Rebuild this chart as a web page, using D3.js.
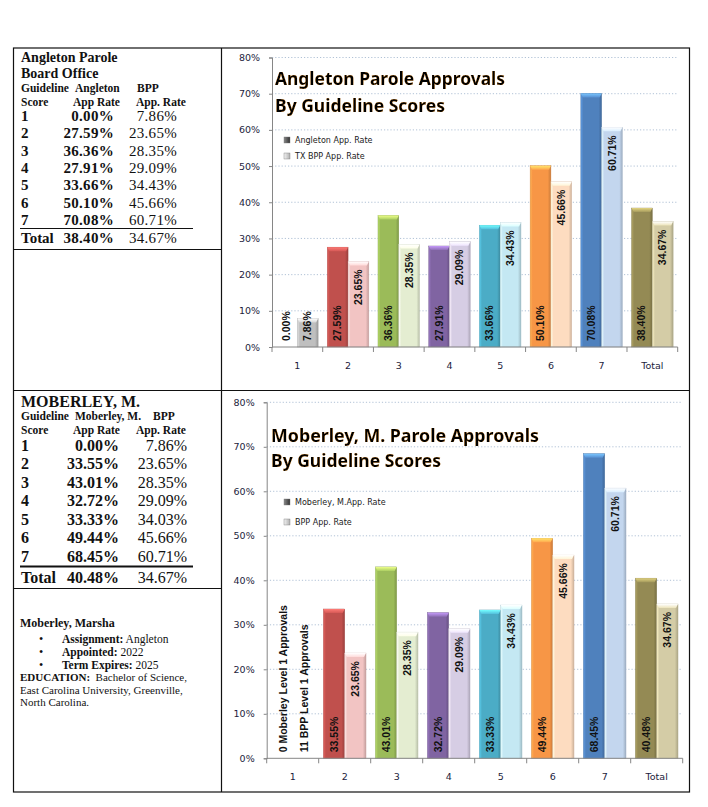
<!DOCTYPE html>
<html lang="en">
<head>
<meta charset="UTF-8">
<title>Parole Approvals</title>
<style>
    body{ margin:0; background:#fff; }
    .serif{ font-family:"Liberation Serif","Times New Roman",serif; fill:#111; }
    .tick text{ font-family:"DejaVu Sans",sans-serif; font-size:9.5px; fill:#1c1c3c; }
    .lbl{ font-family:"Liberation Sans",Arial,sans-serif; font-weight:bold; font-size:10.5px; fill:#111; }
</style>
<script src="https://cdn.jsdelivr.net/npm/d3@7"></script>
</head>
<body>
<script>
    const width = 708
    const height = 807

    // chart data
    const categories = ["1","2","3","4","5","6","7","Total"]
    const angletonRates = [0.00, 27.59, 36.36, 27.91, 33.66, 50.10, 70.08, 38.40]
    const bppRates = [7.86, 23.65, 28.35, 29.09, 34.43, 45.66, 60.71, 34.67]
    const moberleyRates = [null, 33.55, 43.01, 32.72, 33.33, 49.44, 68.45, 40.48]
    const moberleyBppRates = [null, 23.65, 28.35, 29.09, 34.43, 45.66, 60.71, 34.67]
    const yTicks = [0,10,20,30,40,50,60,70,80]

    // table data (left column)
    const scoreRows = ["1","2","3","4","5","6","7","Total"]
    const angletonTable = ["0.00%","27.59%","36.36%","27.91%","33.66%","50.10%","70.08%","38.40%"]
    const angletonBppTable = ["7.86%","23.65%","28.35%","29.09%","34.43%","45.66%","60.71%","34.67%"]
    const moberleyTable = ["0.00%","33.55%","43.01%","32.72%","33.33%","49.44%","68.45%","40.48%"]
    const moberleyBppTable = ["7.86%","23.65%","28.35%","29.09%","34.03%","45.66%","60.71%","34.67%"]

    const darkColors = ["#a6a6a6","#c0504d","#9bbb59","#8064a2","#4bacc6","#f79646","#4f81bd","#948a54"]
    const lightColors = ["#bfbfbf","#f2c4c3","#e4edd1","#d6cde4","#c4e8f3","#fddcc0","#c3d6ee","#d4cca6"]

    let svg = d3.select("body").append("svg")
        .attr("width", width).attr("height", height)
        .attr("viewBox", `0 0 ${width} ${height}`)
    let defs = svg.append("defs")

    //glow for titles
    let glow = defs.append("filter").attr("id","glow").attr("x","-5%").attr("y","-20%").attr("width","110%").attr("height","140%")
    glow.append("feMorphology").attr("in","SourceAlpha").attr("operator","dilate").attr("radius",0.35).attr("result","d")
    glow.append("feGaussianBlur").attr("in","d").attr("stdDeviation",0.6).attr("result","b")
    glow.append("feFlood").attr("flood-color","#f0a040").attr("flood-opacity",0.75)
    glow.append("feComposite").attr("in2","b").attr("operator","in").attr("result","g")
    let gm = glow.append("feMerge")
    gm.append("feMergeNode").attr("in","g")
    gm.append("feMergeNode").attr("in","SourceGraphic")

    //gradients for bevelled bars
    function makeGrad(id, c){
        let g = defs.append("linearGradient").attr("id",id).attr("x1","0").attr("x2","1").attr("y1","0").attr("y2","0")
        const base = d3.color(c)
        g.append("stop").attr("offset","0").attr("stop-color", base.brighter(0.5))
        g.append("stop").attr("offset","0.12").attr("stop-color", base)
        g.append("stop").attr("offset","0.85").attr("stop-color", base)
        g.append("stop").attr("offset","1").attr("stop-color", base.darker(0.6))
        let t = defs.append("linearGradient").attr("id",id+"_top").attr("x1","0").attr("x2","0").attr("y1","0").attr("y2","1")
        t.append("stop").attr("offset","0").attr("stop-color", base.brighter(1.2))
        t.append("stop").attr("offset","1").attr("stop-color", base.brighter(0.3))
    }
    darkColors.forEach((c,i)=>makeGrad("d"+i,c))
    lightColors.forEach((c,i)=>makeGrad("l"+i,c))
    let lg = defs.append("linearGradient").attr("id","legDark").attr("x1","0").attr("x2","1")
    lg.append("stop").attr("offset","0").attr("stop-color","#888")
    lg.append("stop").attr("offset","1").attr("stop-color","#333")
    let lg2 = defs.append("linearGradient").attr("id","legLight").attr("x1","0").attr("x2","1")
    lg2.append("stop").attr("offset","0").attr("stop-color","#f2f2f2")
    lg2.append("stop").attr("offset","1").attr("stop-color","#b0b0b0")

    //outer frame
    let frame = svg.append("g").attr("stroke","#111").attr("stroke-width",1.2).attr("fill","none")
    frame.append("rect").attr("x",13.5).attr("y",48).attr("width",676).attr("height",744)
    frame.append("line").attr("x1",221.5).attr("x2",221.5).attr("y1",48).attr("y2",792)
    frame.append("line").attr("x1",13.5).attr("x2",689.5).attr("y1",390.5).attr("y2",390.5)
    frame.append("line").attr("x1",13.5).attr("x2",221.5).attr("y1",249.5).attr("y2",249.5)
    frame.append("line").attr("x1",13.5).attr("x2",221.5).attr("y1",588.5).attr("y2",588.5)

    //left tables
    function drawTable(cfg){
        let g = svg.append("g").attr("class","serif")
        cfg.heads.forEach(h=>{
            g.append("text").attr("x",h[0]).attr("y",h[1]).text(h[2])
                .attr("font-weight","bold").attr("font-size",h[3])
        })
        scoreRows.forEach((s,i)=>{
            const y = i<7 ? cfg.row0 + i*cfg.step : cfg.totalY
            g.append("text").attr("x",21).attr("y",y).text(s)
                .attr("font-weight","bold").attr("font-size",cfg.fs)
            g.append("text").attr("x",cfg.colA).attr("y",y).text(cfg.a[i])
                .attr("text-anchor","end").attr("font-weight","bold")
                .attr("font-size",cfg.fs).attr("letter-spacing",cfg.ls)
            g.append("text").attr("x",cfg.colB).attr("y",y).text(cfg.b[i])
                .attr("text-anchor","end").attr("font-size",cfg.fs).attr("letter-spacing",cfg.ls)
        })
        g.append("line").attr("x1",20).attr("x2",193).attr("y1",cfg.lineY).attr("y2",cfg.lineY)
            .attr("stroke","#111").attr("stroke-width",cfg.lineW)
    }
    drawTable({
        heads:[[21,62,"Angleton Parole","14px"],[21,78,"Board Office","14px"],
            [21,92,"Guideline","11.5px"],[75,92,"Angleton","11.5px"],[137,92,"BPP","11.5px"],
            [21,106,"Score","11.5px"],[73,106,"App Rate","11.5px"],[136,106,"App. Rate","11.5px"]],
        row0:121, step:17.3, totalY:242.7, fs:"15px", ls:0.3,
        colA:114, colB:177, a:angletonTable, b:angletonBppTable, lineY:228.5, lineW:1
    })
    drawTable({
        heads:[[21,407,"MOBERLEY, M.","16px"],
            [21,419.5,"Guideline","11.5px"],[75,419.5,"Moberley, M.","11.5px"],[153,419.5,"BPP","11.5px"],
            [21,433.5,"Score","11.5px"],[73,433.5,"App Rate","11.5px"],[136,433.5,"App. Rate","11.5px"]],
        row0:451, step:18.45, totalY:582.7, fs:"16px", ls:0,
        colA:119, colB:187, a:moberleyTable, b:moberleyBppTable, lineY:566.5, lineW:2
    })

    //bio
    let bio = svg.append("g").attr("class","serif").attr("font-size","11px")
    bio.append("text").attr("x",20).attr("y",627).attr("font-size","12px").attr("font-weight","bold").text("Moberley, Marsha")
    const bullets = [["Assignment:"," Angleton"],["Appointed:"," 2022"],["Term Expires:"," 2025"]]
    bullets.forEach((b,i)=>{
        const y = 643 + i*13
        bio.append("text").attr("x",39).attr("y",y).attr("font-size","12px").text("•")
        let t = bio.append("text").attr("x",62).attr("y",y).attr("font-size","11.5px")
        t.append("tspan").attr("font-weight","bold").text(b[0])
        t.append("tspan").text(b[1])
    })
    let ed = bio.append("text").attr("x",20).attr("y",681)
    ed.append("tspan").attr("font-weight","bold").text("EDUCATION:")
    ed.append("tspan").text("\u00a0 Bachelor of Science,")
    bio.append("text").attr("x",20).attr("y",693.5).text("East Carolina University, Greenville,")
    bio.append("text").attr("x",20).attr("y",706).text("North Carolina.")

    //charts
    function drawChart(cfg){
        let g = svg.append("g")
        const x = d3.scaleBand().domain(categories).range([cfg.x0,cfg.x1])
            .paddingInner(0.18).paddingOuter(0.09)
        const sub = d3.scaleBand().domain(["a","b"]).range([0,x.bandwidth()])
        const y = d3.scaleLinear().domain([0,80]).range([cfg.y0,cfg.yTop])
        const step = (cfg.x1-cfg.x0)/categories.length

        //grid
        g.append("g").selectAll("line").data(yTicks.slice(1)).enter().append("line")
            .attr("x1",cfg.x0).attr("x2",cfg.x1)
            .attr("y1",d=>y(d)).attr("y2",d=>y(d))
            .attr("stroke","#9db3cc").attr("stroke-width",0.8).attr("stroke-dasharray","1.2,2")

        //y axis
        let ya = g.append("g").attr("transform",`translate(${cfg.x0},0)`)
            .call(d3.axisLeft(y).tickValues(yTicks).tickFormat(d=>d+"%").tickSize(3).tickPadding(9))
        ya.select(".domain").attr("stroke","#868686")
        ya.selectAll(".tick line").attr("stroke","#868686")

        //bars
        const series = [{k:"a",vals:cfg.a,pre:"d",pos:"base"},{k:"b",vals:cfg.b,pre:"l",pos:"end"}]
        series.forEach(s=>{
            categories.forEach((c,i)=>{
                const v = s.vals[i]
                if(v===null) return
                const bx = x(c)+sub(s.k), bw = sub.bandwidth()
                const top = y(v), h = cfg.y0 - top
                if(h>0){
                    g.append("rect").attr("x",bx).attr("y",top).attr("width",bw).attr("height",h)
                        .attr("fill",`url(#${s.pre}${i})`)
                        .attr("stroke",d3.color(s.pre==="d"?darkColors[i]:lightColors[i]).darker(0.5))
                        .attr("stroke-width",0.4)
                    g.append("path")
                        .attr("d",`M${bx},${top} L${bx+bw},${top} L${bx+bw-2},${top+Math.min(4,h)} L${bx+2},${top+Math.min(4,h)} Z`)
                        .attr("fill",`url(#${s.pre}${i}_top)`)
                }
                let cx = bx + bw/2
                let lab = v.toFixed(2)+"%"
                let atBase = s.pos==="base" || h < 50
                let ly = atBase ? cfg.y0 - 6 : top + 8
                g.append("text").attr("class","lbl")
                    .attr("transform",`translate(${cx+3.5},${ly}) rotate(-90)`)
                    .attr("text-anchor",atBase?"start":"end")
                    .text(lab)
            })
        })

        //x axis
        g.append("line").attr("x1",cfg.x0).attr("x2",cfg.x1).attr("y1",cfg.y0).attr("y2",cfg.y0)
            .attr("stroke","#868686")
        g.append("g").selectAll("line").data(d3.range(categories.length+1)).enter().append("line")
            .attr("x1",d=>cfg.x0+d*step).attr("x2",d=>cfg.x0+d*step)
            .attr("y1",cfg.y0).attr("y2",cfg.y0+5).attr("stroke","#868686")
        let xa = g.append("g").attr("transform",`translate(0,${cfg.y0})`)
            .call(d3.axisBottom(x).tickSize(0).tickPadding(cfg.xPad))
        xa.select(".domain").remove()

        //title
        let tg = g.append("g").attr("filter","url(#glow)")
            .attr("font-family","'Noto Sans',sans-serif").attr("font-weight","bold").attr("font-size","18px")
        tg.append("text").attr("x",cfg.tx).attr("y",cfg.ty1).text(cfg.t1)
            .attr("textLength",cfg.tw1).attr("lengthAdjust","spacingAndGlyphs")
        tg.append("text").attr("x",cfg.tx).attr("y",cfg.ty2).text("By Guideline Scores")
            .attr("textLength",170).attr("lengthAdjust","spacingAndGlyphs")

        //legend
        let leg = g.append("g").attr("font-family","'DejaVu Sans',sans-serif").attr("font-size","8px").attr("fill","#222")
        ;[[cfg.l1,cfg.ly1,"url(#legDark)"],[cfg.l2,cfg.ly2,"url(#legLight)"]].forEach(l=>{
            leg.append("rect").attr("x",284).attr("y",l[1]-3).attr("width",6).attr("height",6)
                .attr("fill",l[2]).attr("stroke","#777").attr("stroke-width",0.4)
            leg.append("text").attr("x",295).attr("y",l[1]+3).text(l[0])
        })

        //notes inside category 1
        if(cfg.notes){
            cfg.notes.forEach((n,i)=>{
                g.append("text").attr("class","lbl").attr("font-size","9.5px")
                    .attr("transform",`translate(${cfg.noteX[i]+3.5},${cfg.y0-6}) rotate(-90)`)
                    .text(n)
            })
        }
    }

    drawChart({x0:272, x1:677.7, y0:347, yTop:57.5, a:angletonRates, b:bppRates, xPad:15,
        t1:"Angleton Parole Approvals", tw1:230, tx:275, ty1:85, ty2:112,
        l1:"Angleton App. Rate", l2:"TX BPP App. Rate", ly1:140, ly2:156})
    drawChart({x0:266.7, x1:682.7, y0:758.3, yTop:402.3, a:moberleyRates, b:moberleyBppRates, xPad:15,
        t1:"Moberley, M. Parole Approvals", tw1:268, tx:271, ty1:442, ty2:467,
        l1:"Moberley, M.App. Rate", l2:"BPP App. Rate", ly1:502, ly2:522,
        notes:["0 Moberley Level 1 Approvals","11 BPP Level 1 Approvals"], noteX:[283.3,304]})
</script>
</body>
</html>
